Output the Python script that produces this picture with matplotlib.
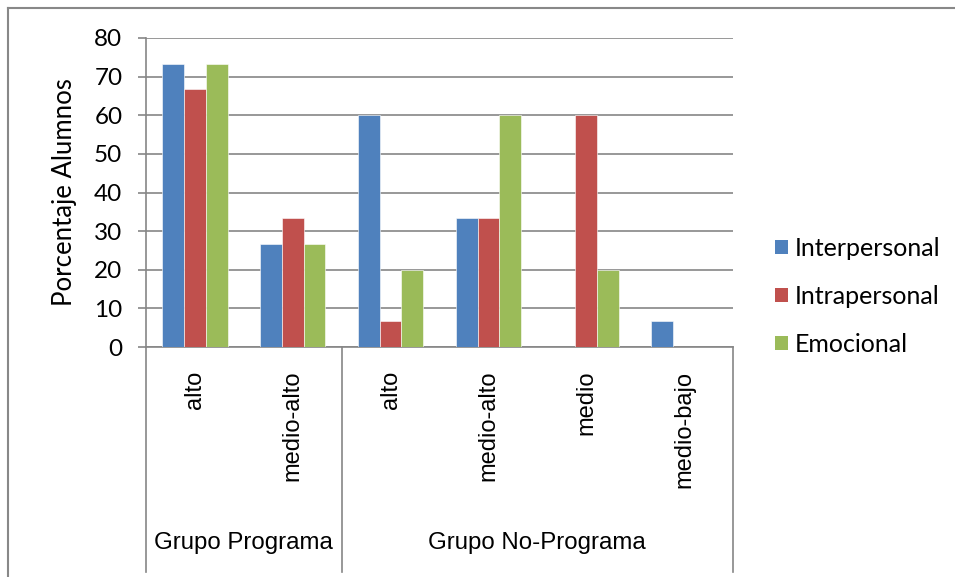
import matplotlib.pyplot as plt
import numpy as np
from matplotlib.lines import Line2D
from matplotlib.patches import Patch

# data
niveles = ["alto", "medio-alto", "alto", "medio-alto", "medio", "medio-bajo"]
grupos = ["Grupo Programa", "Grupo No-Programa"]
grupo_tam = [2, 4]
interpersonal = [73.3, 26.7, 60.0, 33.3, 0.0, 6.7]
intrapersonal = [66.7, 33.3, 6.7, 33.3, 60.0, 0.0]
emocional = [73.3, 26.7, 20.0, 60.0, 20.0, 0.0]
series = ["Interpersonal", "Intrapersonal", "Emocional"]
colores = ["#4F81BD", "#C0504D", "#9BBB59"]

gris = "#868686"
W, H = 955, 577
fig = plt.figure(figsize=(W / 100, H / 100), dpi=100)
ax = fig.add_axes([146 / W, 1 - 347 / H, (733 - 146) / W, (347 - 38) / H])

x = np.arange(len(niveles))
w = 1 / 4.5
for k, vals in enumerate([interpersonal, intrapersonal, emocional]):
    ax.bar(x + (k - 1) * w, vals, w, color=colores[k], edgecolor="white",
           linewidth=0.4, zorder=3)

ax.set_xlim(-0.5, len(niveles) - 0.5)
ax.set_ylim(0, 80)
ax.set_yticks(range(0, 81, 10))
ax.yaxis.grid(True, color=gris, linewidth=1.2, zorder=0)
for s in ["top", "right"]:
    ax.spines[s].set_visible(False)
for s in ["left", "bottom"]:
    ax.spines[s].set_color(gris)
    ax.spines[s].set_linewidth(1.2)
ax.tick_params(axis="y", length=6, width=1.2, color=gris, pad=11,
               labelsize=17.5)
for t in ax.get_yticklabels():
    t.set_family("Lato")
ax.set_ylabel("Porcentaje Alumnos", family="Lato", fontsize=18.5, labelpad=12)

ax.set_xticks(x)
ax.set_xticklabels(niveles, rotation=90, family="Liberation Sans",
                   fontsize=17)
ax.tick_params(axis="x", length=0, pad=17)

# separators and group labels under the axis
tr = ax.get_xaxis_transform()
ybot = -(572 - 347) / (347 - 38)
ygrp = -(543 - 347) / (347 - 38)
bordes = np.concatenate([[0], np.cumsum(grupo_tam)]) - 0.5
for b in bordes:
    ax.plot([b, b], [0, ybot], color=gris, linewidth=1.2, transform=tr,
            clip_on=False)
for i, g in enumerate(grupos):
    c = (bordes[i] + bordes[i + 1]) / 2
    ax.text(c, ygrp, g, transform=tr, ha="center", va="center",
            family="Liberation Sans", fontsize=17.3)

handles = [Patch(facecolor=c, edgecolor="none") for c in colores]
fig.legend(handles, series, loc="center left",
           bbox_to_anchor=(775 / W, 1 - 296 / H), frameon=False,
           prop={"family": "Lato", "size": 18}, handlelength=0.5,
           handleheight=0.5, handletextpad=0.3, labelspacing=1.0,
           borderpad=0, borderaxespad=0)

# chart border (top and left visible)
fig.add_artist(Line2D([8 / W, 1], [1 - 8 / H, 1 - 8 / H], color="#888888",
                      linewidth=1.5))
fig.add_artist(Line2D([8 / W, 8 / W], [0, 1 - 8 / H], color="#888888",
                      linewidth=1.5))

fig.savefig("out.png", dpi=100)
